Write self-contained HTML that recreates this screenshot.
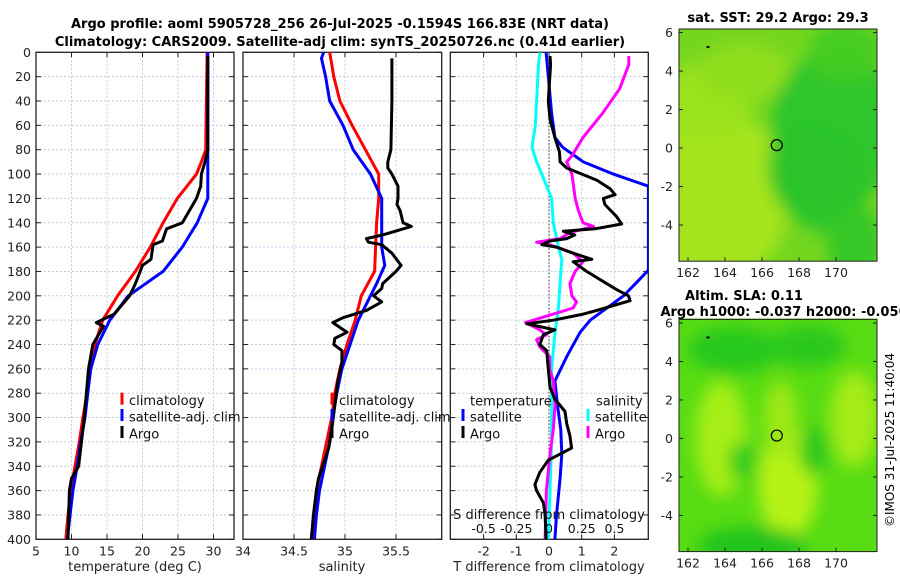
<!DOCTYPE html>
<html><head><meta charset="utf-8"><style>
body{margin:0;background:#fff;}
svg{display:block;font-family:"DejaVu Sans","Liberation Sans",sans-serif;}
</style></head><body>
<svg id="fig" width="900" height="580" viewBox="0 0 900 580" xmlns="http://www.w3.org/2000/svg">
<defs>
<clipPath id="c1"><rect x="36" y="52.3" width="198" height="487"/></clipPath>
<clipPath id="c2"><rect x="243" y="52.3" width="198.7" height="487"/></clipPath>
<clipPath id="c3"><rect x="450.3" y="52.3" width="198" height="487"/></clipPath>
<clipPath id="m1"><rect x="679" y="29" width="198" height="232"/></clipPath>
<clipPath id="m2"><rect x="679" y="318.5" width="198" height="233.5"/></clipPath>
<filter id="bl" x="-50%" y="-50%" width="200%" height="200%"><feGaussianBlur stdDeviation="8"/></filter>
</defs>
<text x="340" y="28" text-anchor="middle" font-size="13" font-weight="bold">Argo profile: aoml 5905728_256 26-Jul-2025 -0.1594S 166.83E (NRT data)</text>
<text x="340" y="46" text-anchor="middle" font-size="13" font-weight="bold">Climatology: CARS2009. Satellite-adj clim: synTS_20250726.nc (0.41d earlier)</text>
<g id="g1"></g>
<g id="g2"></g>
<g id="g3"></g>
<g id="maps"></g>
<text transform="translate(894,440) rotate(-90)" text-anchor="middle" font-size="12">©IMOS 31-Jul-2025 11:40:04</text>
</svg>
<script>
// ---- data (depth in m) ----
const depthTicks=[0,20,40,60,80,100,120,140,160,180,200,220,240,260,280,300,320,340,360,380,400];
const tTicks=[5,10,15,20,25,30];
const sTicks=[34,34.5,35,35.5];
const sTickLabels=["34","34.5","35","35.5"];
const dTicks=[-2,-1,0,1,2];
const sdTicks=[-0.5,-0.25,0,0.25,0.5];
const sdTickLabels=["-0.5","-0.25","0","0.25","0.5"];

const climTdep=[0,80,90,100,120,140,160,180,200,220,240,260,280,300,320,340,360,380,400];
const climT=[29.1,28.9,28.3,27.6,24.9,22.9,21.1,19.0,16.5,14.4,13.3,12.7,12.2,11.6,11.1,10.5,9.9,9.5,9.2];
const satTdep=[0,120,140,160,180,200,220,240,260,280,300,320,340,360,380,400];
const satT=[29.2,29.2,27.7,25.6,22.9,18.0,15.4,13.7,12.7,12.3,11.9,11.3,10.8,10.2,9.8,9.4];
const argoTdep=[3,80,90,100,110,120,130,140,145,155,158,170,175,190,200,215,222,225,240,260,300,340,350,360,400];
const argoT=[29.2,29.2,28.8,28.3,28.2,27.6,26.6,25.6,23.4,22.8,21.5,21.2,20.0,19.0,18.2,16.0,13.5,14.5,13.0,12.4,11.8,11.0,10.0,9.7,9.5];

const climSdep=[0,20,40,60,80,100,120,140,160,180,200,220,240,260,280,300,320,340,360,380,400];
const climS=[34.85,34.89,34.95,35.07,35.2,35.33,35.33,35.31,35.3,35.29,35.16,35.1,35.02,34.95,34.9,34.87,34.82,34.77,34.72,34.7,34.67];
const satSdep=[0,5,20,40,60,80,100,120,140,160,175,190,200,220,240,260,280,300,320,340,360,380,400];
const satS=[34.79,34.77,34.81,34.85,34.98,35.08,35.25,35.36,35.36,35.36,35.39,35.31,35.25,35.13,35.05,34.97,34.92,34.88,34.85,34.8,34.75,34.72,34.7];
const argoSdep=[5,40,80,90,95,100,110,120,125,130,140,143,147,150,153,156,158,165,175,180,190,194,200,205,212,218,222,230,235,240,245,255,270,290,310,325,340,350,360,380,400];
const argoS=[35.46,35.46,35.45,35.42,35.42,35.46,35.52,35.52,35.51,35.54,35.57,35.65,35.49,35.37,35.21,35.23,35.36,35.46,35.55,35.5,35.37,35.36,35.28,35.36,35.21,34.98,34.88,35.02,34.9,34.89,34.97,34.97,34.93,34.9,34.87,34.84,34.78,34.74,34.72,34.69,34.67];

const dSatTdep=[0,50,70,78,90,100,110,179,200,220,230,250,270,290,310,330,350,380,400];
const dSatT=[-0.09,0.08,0.18,0.42,1.05,1.97,3.04,3.04,2.28,1.26,0.95,0.54,0.18,0.26,0.36,0.39,0.34,0.23,0.18];
const dArgoTdep=[3,10,40,55,70,82,90,95,105,112,117,120,125,135,141,145,147,150,153,155,158,160,165,170,172,180,195,200,204,208,212,215,220,223,228,232,240,245,260,275,285,290,295,305,315,325,330,335,345,355,360,370,380,400];
const dArgoT=[0.03,0.05,-0.02,0.03,0.18,0.32,0.34,0.54,1.46,1.87,2.02,1.66,1.71,2.07,2.22,1.41,0.44,0.79,0.54,0.03,-0.22,0.23,0.74,1.31,0.74,1.15,2.07,2.43,2.48,1.97,1.46,1.05,0.13,-0.68,0.18,-0.17,-0.28,-0.07,-0.02,0.03,0.18,0.34,0.49,0.54,0.64,0.69,0.34,-0.02,-0.28,-0.43,-0.38,-0.17,-0.12,-0.09];
const dSatSdep=[0,10,40,60,78,90,100,120,140,160,170,190,210,230,260,290,320,360,400];
const dSatS=[-0.07,-0.08,-0.095,-0.105,-0.13,-0.095,-0.055,0.02,0.033,0.072,0.098,0.085,0.072,0.046,0.02,0.02,0.02,0.008,-0.005];
const dArgoSdep=[3,10,30,50,70,85,90,100,120,130,140,143,148,153,156,158,165,172,180,190,200,205,210,215,222,228,232,236,242,250,260,270,290,310,330,360,400];
const dArgoS=[0.61,0.61,0.54,0.41,0.26,0.175,0.135,0.175,0.2,0.225,0.26,0.34,0.16,0.085,-0.095,0.005,0.185,0.26,0.2,0.16,0.175,0.21,0.185,0.033,-0.18,-0.07,-0.02,-0.095,-0.07,0.005,0.005,0.033,0.046,0.033,0.008,-0.02,-0.03];

// ---- scales ----
const Y=d=>52.3+d*1.2175;
const X1=t=>36+(t-5)*7.1;
const X2=s=>243+(s-34)*102;
const X3=t=>549+t*32.7;
const XS=s=>549+s*4*32.7;
const NS="http://www.w3.org/2000/svg";
function el(tag,attrs,parent,txt){const e=document.createElementNS(NS,tag);for(const k in attrs)e.setAttribute(k,attrs[k]);if(txt!==undefined)e.textContent=txt;parent.appendChild(e);return e;}

function frame(g,x0,x1,xticks,fx,xlabels,showY){
  const y0=Y(0),y1=Y(400);
  xticks.forEach(t=>{const x=fx(t);if(x>x0+1&&x<x1-1){
    const gl=el('line',{x1:x,x2:x,y1:y0,y2:y1,stroke:'#c5c9e6','stroke-width':1,'stroke-dasharray':'2,2'},g);
    
    }});
  depthTicks.forEach(d=>{const y=Y(d);
    if(d>0&&d<400){const gl=el('line',{x1:x0,x2:x1,y1:y,y2:y,stroke:'#c5c9e6','stroke-width':1,'stroke-dasharray':'2,2'},g);
      
      }
    el('line',{x1:x0,x2:x0+5,y1:y,y2:y,stroke:'#222'},g);
    el('line',{x1:x1-5,x2:x1,y1:y,y2:y,stroke:'#222'},g);
    if(showY){const t=el('text',{x:x0-5,y:y+4.5,'text-anchor':'end','font-size':12.5,fill:'#222'},g,String(d));
      
      }
  });
  xticks.forEach((t,i)=>{const x=fx(t);
    el('line',{x1:x,x2:x,y1:y1,y2:y1-5,stroke:'#222'},g);
    el('line',{x1:x,x2:x,y1:y0,y2:y0+5,stroke:'#222'},g);
    if(xlabels){const tx=el('text',{x:x,y:y1+16,'text-anchor':'middle','font-size':12.5,fill:'#222'},g,xlabels[i]);
      
      }
  });
  const r=el('rect',{x:x0,y:y0,width:x1-x0,height:y1-y0,fill:'none',stroke:'#222','stroke-width':1.3},g);
  
  
}
function line(g,deps,vals,fx,color,clip,name){
  const pts=deps.map((d,i)=>fx(vals[i]).toFixed(1)+','+Y(d).toFixed(1)).join(' ');
  const p=el('polyline',{points:pts,fill:'none',stroke:color,'stroke-width':3,'stroke-linejoin':'round','clip-path':'url(#'+clip+')'},g);
  
  
}
function legend(g,x,y,color,label,name){
  el('rect',{x:x-1.5,y:y-8,width:3,height:12,fill:color},g);
  const t=el('text',{x:x+7,y:y+4.5,'font-size':13,fill:'#111'},g,label);
  
  
}

// panel 1
const g1=document.getElementById('g1');
frame(g1,36,234,tTicks,X1,tTicks.map(String),true);
line(g1,climTdep,climT,X1,'#ff0000','c1','climatology-temperature-line');
line(g1,satTdep,satT,X1,'#0000ff','c1','satellite-temperature-line');
line(g1,argoTdep,argoT,X1,'#000000','c1','argo-temperature-line');
legend(g1,122,400.7,'#ff0000','climatology','legend-climatology');
legend(g1,122,417,'#0000ff','satellite-adj. clim','legend-satellite');
legend(g1,122,434,'#000000','Argo','legend-argo');
let t=el('text',{x:135,y:571,'text-anchor':'middle','font-size':13,fill:'#222'},g1,'temperature (deg C)');



// panel 2
const g2=document.getElementById('g2');
frame(g2,243,441.7,sTicks,X2,sTickLabels,false);
line(g2,climSdep,climS,X2,'#ff0000','c2','climatology-salinity-line');
line(g2,satSdep,satS,X2,'#0000ff','c2','satellite-salinity-line');
line(g2,argoSdep,argoS,X2,'#000000','c2','argo-salinity-line');
legend(g2,332,400.7,'#ff0000','climatology','legend-climatology');
legend(g2,332,417,'#0000ff','satellite-adj. clim','legend-satellite');
legend(g2,332,434,'#000000','Argo','legend-argo');
t=el('text',{x:342,y:571,'text-anchor':'middle','font-size':13,fill:'#222'},g2,'salinity');



// panel 3
const g3=document.getElementById('g3');
frame(g3,450.3,648.3,dTicks,X3,dTicks.map(String),false);
el('line',{x1:549,x2:549,y1:Y(0),y2:Y(400),stroke:'#333','stroke-width':1,'stroke-dasharray':'1.5,2'},g3);
line(g3,dSatSdep,dSatS,XS,'#00ffff','c3','satellite-salinity-diff-line');
line(g3,dSatTdep,dSatT,X3,'#0000ff','c3','satellite-temperature-diff-line');
line(g3,dArgoSdep,dArgoS,XS,'#ff00ff','c3','argo-salinity-diff-line');
line(g3,dArgoTdep,dArgoT,X3,'#000000','c3','argo-temperature-diff-line');
t=el('text',{x:470,y:405.5,'font-size':13,fill:'#111'},g3,'temperature');


t=el('text',{x:596,y:405.5,'font-size':13,fill:'#111'},g3,'salinity');


legend(g3,463,417,'#0000ff','satellite','legend-temperature-satellite');
legend(g3,463,434,'#000000','Argo','legend-temperature-argo');
legend(g3,588,417,'#00ffff','satellite','legend-salinity-satellite');
legend(g3,588,434,'#ff00ff','Argo','legend-salinity-argo');
t=el('text',{x:549,y:519,'text-anchor':'middle','font-size':13,fill:'#111'},g3,'S difference from climatology');


sdTicks.forEach((s,i)=>{const tx=el('text',{x:XS(s),y:533,'text-anchor':'middle','font-size':12.5,fill:'#111'},g3,sdTickLabels[i]);
  
  });
t=el('text',{x:549,y:571,'text-anchor':'middle','font-size':13,fill:'#222'},g3,'T difference from climatology');



// ---- maps ----
const mapLon=[162,164,166,168,170];
const mapLat=[-4,-2,0,2,4,6];
const LX=l=>688+(l-162)*18.5;
const maps=document.getElementById('maps');
function mapFrame(top6,clip,title,blobs,base,name){
  const LY=l=>top6+(6-l)*19.24;
  const g=el('g',{},maps);
  
  
  const cg=el('g',{'clip-path':'url(#'+clip+')'},g);
  el('rect',{x:670,y:top6-15,width:220,height:250,fill:base},cg);
  const bg=el('g',{filter:'url(#bl)'},cg);
  blobs.forEach(b=>el('ellipse',{cx:LX(b[0]),cy:LY(b[1]),rx:b[2]*18.5,ry:b[3]*19.24,fill:b[4],transform:'rotate('+(b[5]||0)+' '+LX(b[0])+' '+LY(b[1])+')'},bg));
  el('circle',{cx:LX(166.8),cy:LY(0.15),r:5.5,fill:'none',stroke:'#000','stroke-width':1.2},cg);
  el('rect',{x:LX(163),y:LY(5.3),width:3,height:2,fill:'#000'},cg);
  const y0=top6-3.6,y1=top6+228.6;
  el('rect',{x:679,y:y0,width:198,height:y1-y0,fill:'none',stroke:'#222','stroke-width':1},g);
  mapLon.forEach(l=>{const x=LX(l);el('line',{x1:x,x2:x,y1:y1,y2:y1-4,stroke:'#222'},g);
    const tx=el('text',{x:x,y:y1+16,'text-anchor':'middle','font-size':12.5,fill:'#222'},g,String(l));
    
    });
  mapLat.forEach(l=>{const y=LY(l);el('line',{x1:679,x2:683,y1:y,y2:y,stroke:'#222'},g);el('line',{x1:873,x2:877,y1:y,y2:y,stroke:'#222'},g);
    const tx=el('text',{x:673,y:y+4.5,'text-anchor':'end','font-size':12.5,fill:'#222'},g,String(l));
    
    });
  title.forEach(s=>{const tx=el('text',{x:s[1],y:s[2],'text-anchor':'middle','font-size':13,'font-weight':'bold'},g,s[0]);
    
    });
}
mapFrame(32.6,'m1',[['sat. SST: 29.2 Argo: 29.3',778,22]],[
  [163.5,-2.5,4,4.5,'#a4e41c'],[163,2.5,2.5,2,'#9ae21c'],[165,4,2.5,1.5,'#90dd1e'],
  [170,1,3.5,4,'#2ec62a'],[169,-1.5,2.5,3,'#2cc42c',-30],[171,-5,1.5,2,'#36c828'],[170.5,5,2,1.5,'#44cc22']
],'#74d61f','sst-map');
mapFrame(323,'m2',[['Altim. SLA: 0.11',744,300],['Argo h1000: -0.037 h2000: -0.056',784,316]],[
  [163.8,0,1.4,3,'#a6ee14'],[167.4,-2.3,1.6,3,'#b6f212'],[167,1,0.9,2,'#9ee815'],[171,1,1.3,2.5,'#a4ec14'],
  [164.5,4.6,2.5,1.2,'#26c81e'],[168.5,4.8,2,1.1,'#2ac81e'],[165.5,-5.6,3,1,'#22c41e'],[168.8,-0.6,0.8,1.3,'#2ac81e'],[165,-1.2,0.8,1,'#30cc1e']
],'#58dc14','sla-map');
</script>
</body></html>
